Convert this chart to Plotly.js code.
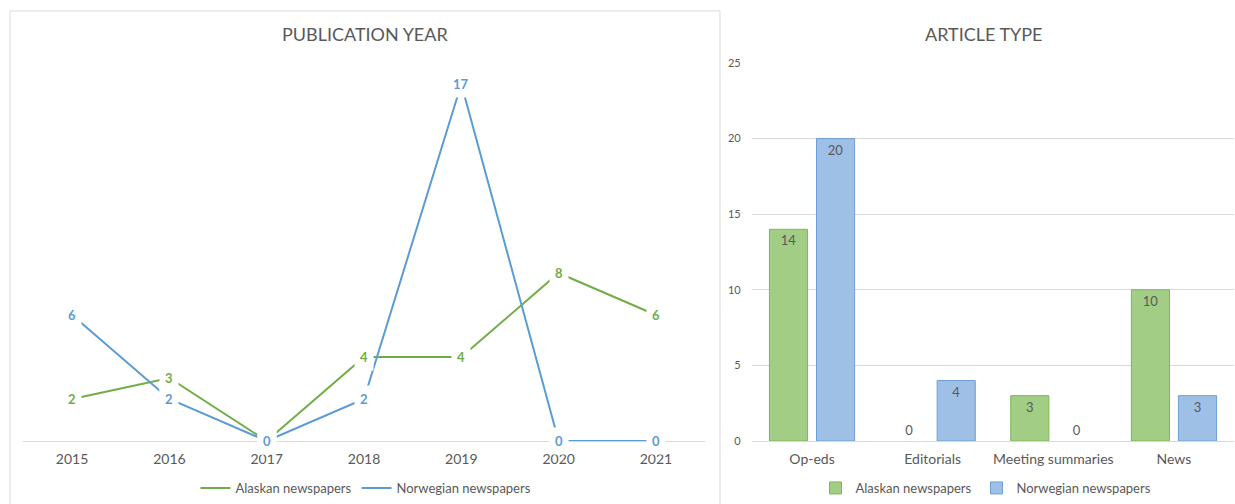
<!DOCTYPE html>
<html>
<head>
<meta charset="utf-8">
<script src="https://cdn.plot.ly/plotly-3.0.1.min.js"></script>
<style>html,body{margin:0;padding:0;background:#fff;}#chart{width:1235px;height:504px;}</style>
</head>
<body>
<div id="chart"></div>
<script>
// ---- data ----
const years = ['2015', '2016', '2017', '2018', '2019', '2020', '2021'];
const alaskanByYear = [2, 3, 0, 4, 4, 8, 6];
const norwegianByYear = [6, 2, 0, 2, 17, 0, 0];

const articleTypes = ['Op-eds', 'Editorials', 'Meeting summaries', 'News'];
const alaskanByType = [14, 0, 3, 10];
const norwegianByType = [20, 4, 0, 3];

const seriesNames = ['Alaskan newspapers', 'Norwegian newspapers'];
const titles = ['PUBLICATION YEAR', 'ARTICLE TYPE'];
const yTicks2 = [0, 5, 10, 15, 20, 25];

// ---- styling ----
const W = 1235, H = 504;
const FONT = 'Lato, "Open Sans", sans-serif';
const GREEN = '#70AD47', BLUE = '#5B9BD5';
const GREY = '#595959';
const px = v => v / W;
const py = v => 1 - v / H;

const traces = [
  {type: 'scatter', mode: 'lines', x: years, y: alaskanByYear, name: seriesNames[0],
   line: {color: GREEN, width: 2}, xaxis: 'x', yaxis: 'y', legend: 'legend', cliponaxis: false, hoverinfo: 'skip'},
  {type: 'scatter', mode: 'lines', x: years, y: norwegianByYear, name: seriesNames[1],
   line: {color: BLUE, width: 2}, xaxis: 'x', yaxis: 'y', legend: 'legend', cliponaxis: false, hoverinfo: 'skip'},
  {type: 'bar', x: articleTypes, y: alaskanByType, name: seriesNames[0],
   marker: {color: '#A2CD85', line: {color: '#7DB659', width: alaskanByType.map(v => v === 0 ? 0 : 1)}},
   text: alaskanByType.map(String), textposition: alaskanByType.map(v => v === 0 ? 'outside' : 'inside'),
   insidetextanchor: 'end', textfont: {color: GREY, size: 13, family: FONT}, constraintext: 'none',
   cliponaxis: false, xaxis: 'x2', yaxis: 'y2', legend: 'legend2', hoverinfo: 'skip'},
  {type: 'bar', x: articleTypes, y: norwegianByType, name: seriesNames[1],
   marker: {color: '#9EBFE6', line: {color: '#6E9FD6', width: norwegianByType.map(v => v === 0 ? 0 : 1)}},
   text: norwegianByType.map(String), textposition: norwegianByType.map(v => v === 0 ? 'outside' : 'inside'),
   insidetextanchor: 'end', textfont: {color: GREY, size: 13, family: FONT}, constraintext: 'none',
   cliponaxis: false, xaxis: 'x2', yaxis: 'y2', legend: 'legend2', hoverinfo: 'skip'}
];

const annotations = [];
[[alaskanByYear, GREEN], [norwegianByYear, BLUE]].forEach(([vals, col]) => {
  vals.forEach((v, i) => {
    annotations.push({x: i, y: v, xref: 'x', yref: 'y', text: String(v), showarrow: false,
      font: {family: FONT, size: 13, color: col, weight: 'bold'}, bgcolor: '#ffffff', borderpad: 5,
      xanchor: 'center', yanchor: 'middle'});
  });
});
annotations.push({x: px(365), y: py(34), xref: 'paper', yref: 'paper', text: titles[0], showarrow: false,
  font: {family: FONT, size: 18, color: GREY}, xanchor: 'center', yanchor: 'middle'});
annotations.push({x: px(984), y: py(34), xref: 'paper', yref: 'paper', text: titles[1], showarrow: false,
  font: {family: FONT, size: 18, color: GREY}, xanchor: 'center', yanchor: 'middle'});

const layout = {
  width: W, height: H,
  margin: {l: 0, r: 0, t: 0, b: 0, pad: 0},
  paper_bgcolor: '#ffffff', plot_bgcolor: 'rgba(0,0,0,0)',
  font: {family: FONT, color: GREY, size: 13},
  showlegend: true,
  barmode: 'group', bargap: 0.22, bargroupgap: 0.19,
  xaxis: {domain: [px(23.4), px(704.6)], type: 'category', range: [-0.5, 6.5],
    showline: true, linecolor: '#D9D9D9', linewidth: 1, showgrid: false, zeroline: false,
    ticks: '', tickfont: {size: 14, color: GREY, family: FONT}, ticklabelstandoff: 5, fixedrange: true},
  yaxis: {domain: [py(441), py(63)], range: [0, 18], visible: false, fixedrange: true},
  xaxis2: {domain: [px(751.7), px(1234.3)], type: 'category', range: [-0.5, 3.5], anchor: 'y2',
    showline: true, linecolor: '#D9D9D9', linewidth: 1, showgrid: false, zeroline: false,
    ticks: '', tickfont: {size: 14, color: GREY, family: FONT}, ticklabelstandoff: 5, fixedrange: true},
  yaxis2: {domain: [py(441), py(63)], range: [0, 25], anchor: 'x2', tickvals: yTicks2,
    showgrid: true, gridcolor: '#D9D9D9', gridwidth: 1, zeroline: false, showline: false,
    ticks: '', tickfont: {size: 11, color: GREY, family: FONT}, ticklabelstandoff: 10, fixedrange: true},
  legend: {orientation: 'h', x: px(366), y: py(488), xanchor: 'center', yanchor: 'middle',
    font: {size: 13, color: GREY, family: FONT}, bgcolor: 'rgba(0,0,0,0)', itemwidth: 30},
  legend2: {orientation: 'h', x: px(986), y: py(488), xanchor: 'center', yanchor: 'middle',
    font: {size: 13, color: GREY, family: FONT}, bgcolor: 'rgba(0,0,0,0)', itemwidth: 30},
  shapes: [
    {type: 'rect', xref: 'paper', yref: 'paper', x0: px(10), x1: px(720), y0: py(510), y1: py(11),
     line: {color: '#D9D9D9', width: 1}, fillcolor: 'rgba(0,0,0,0)', layer: 'below'}
  ],
  annotations: annotations
};

Plotly.newPlot('chart', traces, layout, {staticPlot: true, displayModeBar: false});
</script>
</body>
</html>
